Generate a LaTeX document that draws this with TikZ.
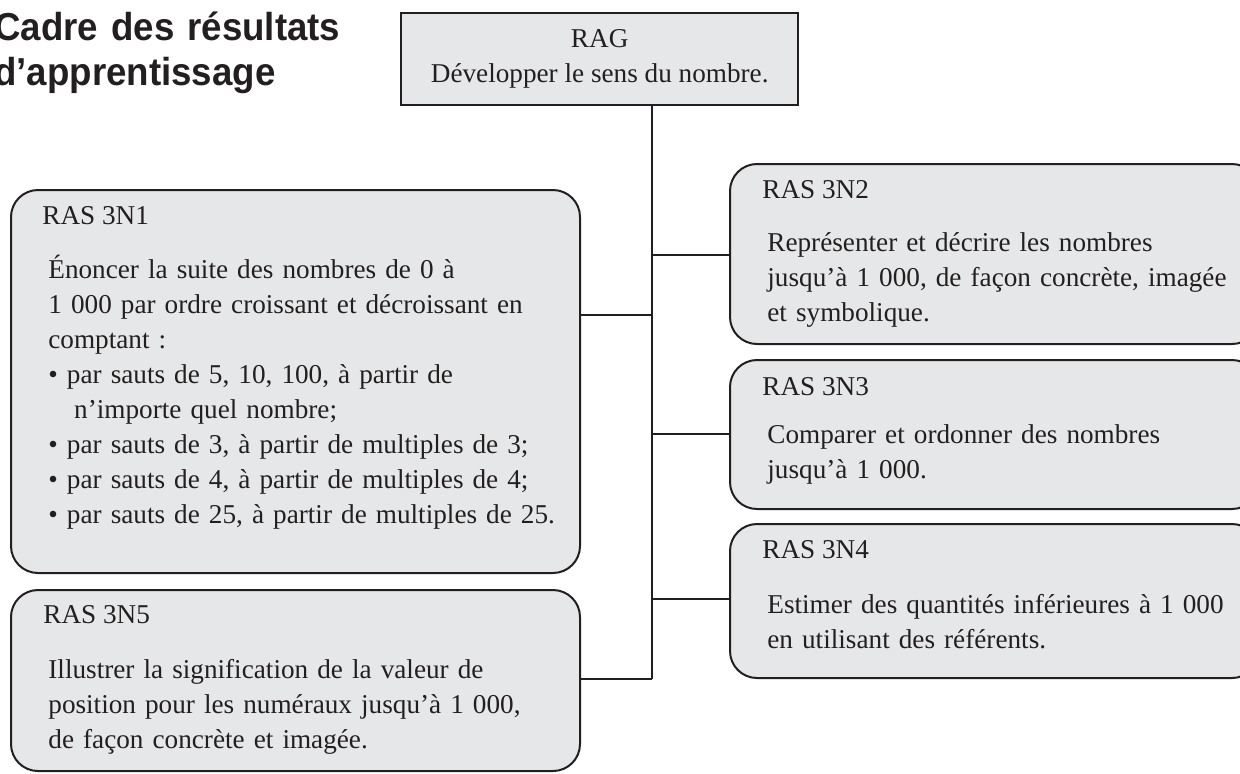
\documentclass[tikz,border=0pt]{standalone}
\usepackage{fontspec}
\setmainfont{Liberation Serif}
\newfontfamily\titlefont{Liberation Sans}[FakeStretch=0.94]
\definecolor{boxfill}{HTML}{E6E7E8}
\definecolor{boxline}{HTML}{231F20}

\begin{document}
\begin{tikzpicture}[x=0.5pt, y=-0.5pt]
\tikzset{ras/.style = {shape=rectangle, draw=boxline, fill=boxfill, line width=1pt, rounded corners=13.5pt, anchor=north west, inner sep=0pt}}
\tikzset{rag/.style = {shape=rectangle, draw=boxline, fill=boxfill, line width=1.2pt, anchor=north west, inner sep=0pt}}
\tikzset{edge/.style = {-, line width=0.8pt, draw=boxline}}
\tikzset{head/.style = {anchor=base west, inner sep=0pt, text=boxline, font=\fontsize{13.6}{17.5}\selectfont}}
\tikzset{body/.style = {head, text width=300pt, align=left}}
\useasboundingbox (0,0) rectangle (1240,773);
% title
\node[anchor=base west, inner sep=0pt, text width=250pt, align=left, text=boxline,
  font=\titlefont\bfseries\fontsize{19.5}{22.5}\selectfont] (title) at (-6,40)
  {Cadre des résultats\\d’apprentissage};
% boxes
\node[rag, minimum width=198.5pt, minimum height=46pt] (rag) at (400,12) {};
\node[ras, minimum width=284.5pt, minimum height=191.5pt] (n1) at (10,189) {};
\node[ras, minimum width=264.5pt, minimum height=90pt] (n2) at (729,163) {};
\node[ras, minimum width=264.5pt, minimum height=74.5pt] (n3) at (729,359) {};
\node[ras, minimum width=264.5pt, minimum height=77pt] (n4) at (729,523) {};
\node[ras, minimum width=284.5pt, minimum height=90.5pt] (n5) at (10,589) {};
% texts
\node[head, anchor=base] (ragh) at ([shift={(0,35)}]rag.north) {RAG};
\node[head, anchor=base] (ragb) at ([shift={(0,70)}]rag.north) {Développer le sens du nombre.};
\node[head] (h1) at ([shift={(32,35)}]n1.north west) {RAS 3N1};
\node[body] (b1) at ([shift={(38,89)}]n1.north west)
  {Énoncer la suite des nombres de 0 à\\
   1~000 par ordre croissant et décroissant en\\
   comptant :\\
   • par sauts de 5, 10, 100, à partir de\\
   \hspace*{0.95em}n’importe quel nombre;\\
   • par sauts de 3, à partir de multiples de 3;\\
   • par sauts de 4, à partir de multiples de 4;\\
   • par sauts de 25, à partir de multiples de 25.};
\node[head] (h2) at ([shift={(33,35)}]n2.north west) {RAS 3N2};
\node[body] (b2) at ([shift={(38,88)}]n2.north west)
  {Représenter et décrire les nombres\\
   jusqu’à 1~000, de façon concrète, imagée\\
   et symbolique.};
\node[head] (h3) at ([shift={(33,36)}]n3.north west) {RAS 3N3};
\node[body] (b3) at ([shift={(38,84)}]n3.north west)
  {Comparer et ordonner des nombres\\
   jusqu’à 1~000.};
\node[head] (h4) at ([shift={(33,35)}]n4.north west) {RAS 3N4};
\node[body] (b4) at ([shift={(38,90)}]n4.north west)
  {Estimer des quantités inférieures à 1~000\\
   en utilisant des référents.};
\node[head] (h5) at ([shift={(33,34)}]n5.north west) {RAS 3N5};
\node[body] (b5) at ([shift={(38,89)}]n5.north west)
  {Illustrer la signification de la valeur de\\
   position pour les numéraux jusqu’à 1~000,\\
   de façon concrète et imagée.};
% trunk and branches
\coordinate (j1) at (652,315);
\coordinate (j2) at (652,255);
\coordinate (j3) at (652,434);
\coordinate (j4) at (652,599);
\coordinate (j5) at (652,679);
\draw[edge] (rag.south -| j5) -- (j5);
\draw[edge] (j1) -- (j1 -| n1.east);
\draw[edge] (j2) -- (j2 -| n2.west);
\draw[edge] (j3) -- (j3 -| n3.west);
\draw[edge] (j4) -- (j4 -| n4.west);
\draw[edge] (j5) -- (j5 -| n5.east);
\end{tikzpicture}
\end{document}
